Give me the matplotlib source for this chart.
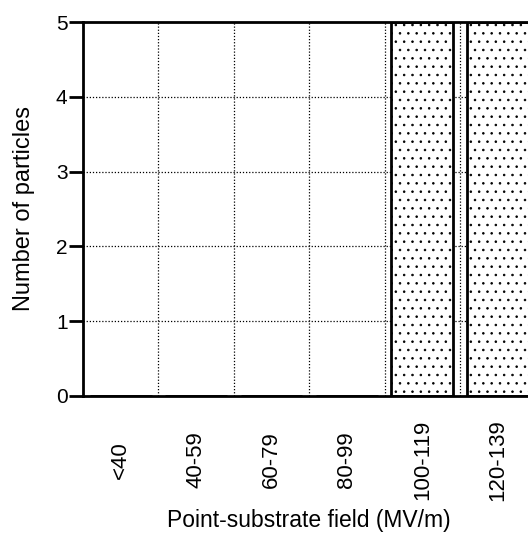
import matplotlib
matplotlib.use("Agg")
import matplotlib.pyplot as plt

# ── Data ────────────────────────────────────────────────────────────────────
CATEGORIES = ["<40", "40-59", "60-79", "80-99", "100-119", "120-139"]
COUNTS = [0, 0, 0, 0, 5, 5]
Y_TICKS = [0, 1, 2, 3, 4, 5]

plt.rcParams["font.family"] = ["Liberation Sans", "DejaVu Sans"]
plt.rcParams["hatch.linewidth"] = 0.6

fig = plt.figure(figsize=(5.28, 5.37), dpi=100)
ax = fig.add_axes([0.157, 0.263, 0.857, 0.696])

x = list(range(len(CATEGORIES)))

# dotted grid at category boundaries and integer counts
for b in range(len(CATEGORIES) - 1):
    ax.axvline(b + 0.5, color="black", lw=0.9, ls=(0, (1, 1.5)), zorder=1)
for yv in Y_TICKS[1:-1]:
    ax.axhline(yv, color="black", lw=0.9, ls=(0, (1, 1.5)), zorder=1)

ax.bar(x, COUNTS, width=0.82, facecolor="white", edgecolor="black",
       linewidth=2.0, hatch="..", zorder=2)

ax.set_xlim(-0.5, 5.5)
ax.set_ylim(0, 5)
ax.set_yticks(Y_TICKS)
ax.set_xticks(x)
ax.set_xticklabels(CATEGORIES, rotation=90, va="center", fontsize=16)
ax.tick_params(axis="x", length=0, pad=46)
ax.tick_params(axis="y", direction="out", length=10, width=2, pad=1, labelsize=15)

for side in ["left", "bottom", "top"]:
    ax.spines[side].set_linewidth(2)
ax.spines["right"].set_visible(False)

ax.set_ylabel("Number of particles", fontsize=17, labelpad=15)
ax.set_xlabel("Point-substrate field (MV/m)", fontsize=16.5, labelpad=6)

fig.savefig("out.png", dpi=100)
